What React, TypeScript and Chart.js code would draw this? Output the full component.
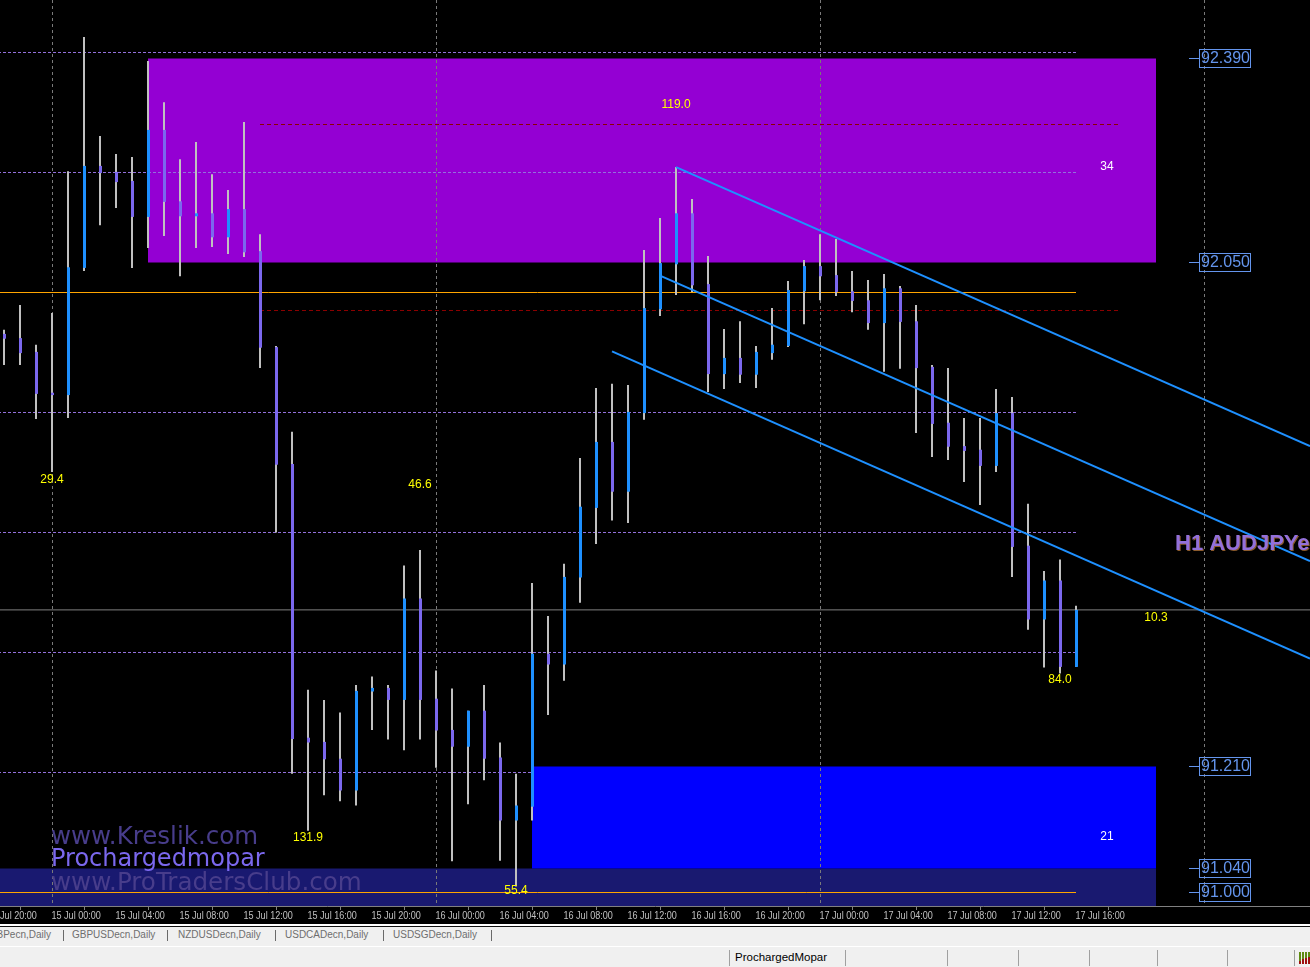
import React, { useEffect, useRef } from 'react';
import { Chart, registerables } from 'chart.js';

Chart.register(...registerables);

// ---- Candles (H1 AUDJPY), hours counted from 15 Jul 00:00 ----
const HOURS = [
  -3, -2, -1, 0, 1, 2, 3, 4, 5, 6, 7, 8, 9, 10, 11, 12, 13, 14, 15, 16, 17, 18, 19, 20,
  21, 22, 23, 24, 25, 26, 27, 28, 29, 30, 31, 32, 33, 34, 35, 36, 37, 38, 39, 40, 41, 42,
  43, 44, 45, 46, 47, 48, 49, 50, 51, 52, 53, 54, 55, 56, 57, 58, 59, 60, 61, 62, 63, 64,
];
const OPEN = [
  91.931, 91.924, 91.901, 91.833, 91.829, 92.041, 92.211, 92.201, 92.186, 92.126, 92.271, 92.152,
  92.127, 92.132, 92.092, 92.139, 92.069, 91.909, 91.714, 91.258, 91.251, 91.223, 91.170, 91.335,
  91.341, 91.321, 91.490, 91.323, 91.271, 91.243, 91.303, 91.225, 91.120, 91.143, 91.398, 91.380,
  91.525, 91.641, 91.751, 91.668, 91.799, 91.972, 92.047, 92.132, 92.014, 91.864, 91.891, 91.863,
  91.899, 91.911, 92.002, 92.044, 92.029, 92.002, 91.987, 91.949, 92.007, 91.952, 91.876, 91.783,
  91.744, 91.738, 91.711, 91.799, 91.578, 91.455, 91.520, 91.376,
];
const HIGH = [
  91.938, 91.979, 91.913, 91.966, 92.202, 92.426, 92.261, 92.231, 92.226, 92.386, 92.317, 92.222,
  92.251, 92.197, 92.171, 92.284, 92.097, 91.911, 91.768, 91.338, 91.321, 91.300, 91.346, 91.360,
  91.346, 91.545, 91.571, 91.370, 91.340, 91.303, 91.346, 91.250, 91.198, 91.516, 91.461, 91.548,
  91.724, 91.841, 91.848, 91.846, 92.071, 92.124, 92.209, 92.156, 92.061, 91.939, 91.952, 91.911,
  91.974, 92.019, 92.054, 92.097, 92.089, 92.036, 92.021, 92.031, 92.011, 91.979, 91.879, 91.874,
  91.791, 91.791, 91.839, 91.826, 91.648, 91.536, 91.555, 91.478,
];
const LOW = [
  91.879, 91.879, 91.789, 91.701, 91.791, 92.036, 92.112, 92.141, 92.041, 92.074, 92.094, 92.027,
  92.074, 92.076, 92.064, 92.059, 91.874, 91.600, 91.198, 91.103, 91.162, 91.152, 91.145, 91.271,
  91.255, 91.237, 91.255, 91.208, 91.052, 91.147, 91.187, 91.053, 91.010, 91.120, 91.296, 91.353,
  91.483, 91.581, 91.620, 91.616, 91.788, 91.961, 91.996, 92.001, 91.834, 91.839, 91.849, 91.841,
  91.888, 91.909, 91.947, 91.987, 91.994, 91.967, 91.938, 91.868, 91.873, 91.766, 91.726, 91.721,
  91.684, 91.646, 91.701, 91.526, 91.438, 91.375, 91.365, 91.376,
];
const CLOSE = [
  91.923, 91.899, 91.831, 91.829, 92.042, 92.211, 92.199, 92.184, 92.126, 92.271, 92.151, 92.127,
  92.132, 92.092, 92.139, 92.067, 91.908, 91.713, 91.256, 91.250, 91.222, 91.170, 91.336, 91.341,
  91.321, 91.490, 91.321, 91.270, 91.243, 91.303, 91.223, 91.120, 91.145, 91.398, 91.380, 91.526,
  91.643, 91.751, 91.668, 91.801, 91.974, 92.049, 92.132, 92.012, 91.864, 91.891, 91.863, 91.901,
  91.913, 92.004, 92.044, 92.027, 92.001, 91.986, 91.949, 92.007, 91.951, 91.874, 91.781, 91.743,
  91.736, 91.711, 91.799, 91.576, 91.455, 91.520, 91.376, 91.471,
];

// ---- Time axis ----
const TIME_LABEL_HOURS = [-4, 0, 4, 8, 12, 16, 20, 24, 28, 32, 36, 40, 44, 48, 52, 56, 60, 64];
const TIME_LABELS = [
  '14 Jul 20:00', '15 Jul 00:00', '15 Jul 04:00', '15 Jul 08:00', '15 Jul 12:00', '15 Jul 16:00',
  '15 Jul 20:00', '16 Jul 00:00', '16 Jul 04:00', '16 Jul 08:00', '16 Jul 12:00', '16 Jul 16:00',
  '16 Jul 20:00', '17 Jul 00:00', '17 Jul 04:00', '17 Jul 08:00', '17 Jul 12:00', '17 Jul 16:00',
];
const DAY_START_HOURS = [0, 24, 48, 72];

// ---- Levels and objects ----
const DASHED_LEVELS = [92.4, 92.2, 91.8, 91.6, 91.4, 91.2];
const ROUND_LEVELS = [92.0, 91.0];
const RED_LEVELS = [92.28, 91.97];
const BID_PRICE = 91.471;
const LEVEL_SPAN = [-4, 64];
const RED_SPAN = [13, 66.75];

const SUPPLY_ZONE = { fromHour: 6, toHour: 69, top: 92.39, bottom: 92.05 };
const DEMAND_ZONE = { fromHour: 30, toHour: 69, top: 91.21, bottom: 91.04 };
const BASE_ZONE = { fromHour: -4, toHour: 69, top: 91.04, bottom: 90.9 };

const CHANNEL_UPPER = [{ hour: 39, price: 92.209 }, { hour: 78.625, price: 91.744 }];
const CHANNEL_MIDDLE = [{ hour: 38, price: 92.028 }, { hour: 78.625, price: 91.5525 }];
const CHANNEL_LOWER = [{ hour: 35, price: 91.902 }, { hour: 78.625, price: 91.39 }];

const SWING_LABELS = [
  { text: '29.4', hour: 0, price: 91.688 },
  { text: '46.6', hour: 23, price: 91.679 },
  { text: '119.0', hour: 39, price: 92.313 },
  { text: '131.9', hour: 16, price: 91.091 },
  { text: '55.4', hour: 29, price: 91.003 },
  { text: '84.0', hour: 63, price: 91.354 },
  { text: '10.3', hour: 69, price: 91.458 },
];
const ZONE_COUNT_LABELS = [
  { text: '34', hour: 65.94, price: 92.209 },
  { text: '21', hour: 65.94, price: 91.0925 },
];
const PRICE_TAGS = [92.39, 92.05, 91.21, 91.04, 91.0];

const TABS = ['EURGBPecn,Daily', 'GBPUSDecn,Daily', 'NZDUSDecn,Daily', 'USDCADecn,Daily', 'USDSGDecn,Daily'];
const STATUS_TEXT = 'ProchargedMopar';

// ---- Style constants ----
const PRICE_MAX = 92.4875;
const PRICE_MIN = 90.9775;
const WICK_X_MIN = -3.25;
const WICK_X_MAX = 78.625;
const BODY_SHIFT = 1 / 32;
const BULL = '#1E90FF';
const BEAR = '#7B68EE';
const WICK = '#C0C0C0';
const TAG_HOUR = 71.6875;
const TAG_TICK_HOUR = 71.0625;

const overlayPlugin = {
  id: 'mt4Overlay',
  afterDatasetsDraw(chart: any) {
    const ctx = chart.ctx as CanvasRenderingContext2D;
    const xs = chart.scales.xw;
    const xb = chart.scales.x;
    const ys = chart.scales.y;
    ctx.save();

    // watermark texts
    ctx.textAlign = 'left';
    ctx.textBaseline = 'alphabetic';
    ctx.font = '24.5px "DejaVu Sans", Verdana, sans-serif';
    ctx.fillStyle = '#483D8B';
    ctx.fillText('www.Kreslik.com', 51, 843.5);
    ctx.font = '24px "DejaVu Sans", Verdana, sans-serif';
    ctx.fillStyle = '#7B68EE';
    ctx.fillText('Prochargedmopar', 51, 865.5);
    ctx.font = '24.6px "DejaVu Sans", Verdana, sans-serif';
    ctx.fillStyle = '#483D8B';
    ctx.fillText('www.ProTradersClub.com', 51, 890);

    // swing labels
    ctx.textAlign = 'center';
    ctx.textBaseline = 'middle';
    ctx.font = '12px "Liberation Sans", Arial, sans-serif';
    ctx.fillStyle = '#FFFF00';
    for (const l of SWING_LABELS) {
      ctx.fillText(l.text, xs.getPixelForValue(l.hour), ys.getPixelForValue(l.price));
    }
    ctx.fillStyle = '#FFFFFF';
    for (const l of ZONE_COUNT_LABELS) {
      ctx.fillText(l.text, xs.getPixelForValue(l.hour), ys.getPixelForValue(l.price));
    }

    // right price tags
    const tagLeft = xs.getPixelForValue(TAG_HOUR);
    const tickLeft = xs.getPixelForValue(TAG_TICK_HOUR);
    ctx.strokeStyle = '#6495ED';
    ctx.fillStyle = '#6495ED';
    ctx.lineWidth = 1;
    ctx.font = '16px "Liberation Sans", Arial, sans-serif';
    ctx.textAlign = 'left';
    for (const p of PRICE_TAGS) {
      const y = Math.floor(ys.getPixelForValue(p));
      ctx.beginPath();
      ctx.moveTo(tickLeft, y + 0.5);
      ctx.lineTo(tagLeft, y + 0.5);
      ctx.stroke();
      ctx.strokeRect(tagLeft + 0.5, y - 9 + 0.5, 51, 18);
      ctx.fillText(p.toFixed(3), tagLeft + 2, y + 1);
    }

    // symbol label
    ctx.font = 'bold 22px "Liberation Sans", Arial, sans-serif';
    ctx.textBaseline = 'alphabetic';
    ctx.fillStyle = '#8B5A2B';
    ctx.fillText('H1 AUDJPYecn', 1176, 551);
    ctx.fillStyle = '#9370DB';
    ctx.fillText('H1 AUDJPYecn', 1175, 550);

    // time axis labels (narrow face, placed at the axis' own tick positions)
    ctx.font = '10px "Liberation Sans", Arial, sans-serif';
    ctx.fillStyle = '#C0C0C0';
    ctx.textAlign = 'left';
    ctx.textBaseline = 'alphabetic';
    const labelY = chart.chartArea.bottom + 13;
    TIME_LABEL_HOURS.forEach((h, i) => {
      const x = xb.getPixelForValue(h);
      ctx.save();
      ctx.translate(x - 1, labelY);
      ctx.scale(0.905, 1);
      ctx.fillText(TIME_LABELS[i], 0, 0);
      ctx.restore();
    });

    ctx.restore();
  },
};

function hLine(price: number, span: number[], color: string, dash: number[], order: number) {
  return {
    type: 'line',
    xAxisID: 'xw',
    yAxisID: 'y',
    data: [{ x: span[0], y: price }, { x: span[1], y: price }],
    borderColor: color,
    borderWidth: 1,
    borderDash: dash,
    pointRadius: 0,
    fill: false,
    order,
  };
}

function zone(z: { fromHour: number; toHour: number; top: number; bottom: number }, color: string, order: number) {
  return {
    type: 'line',
    xAxisID: 'xw',
    yAxisID: 'y',
    data: [{ x: z.fromHour, y: z.top }, { x: z.toHour, y: z.top }],
    borderColor: 'transparent',
    borderWidth: 0,
    backgroundColor: color,
    pointRadius: 0,
    fill: { value: z.bottom },
    order,
  };
}

function slope(points: { hour: number; price: number }[]) {
  return {
    type: 'line',
    xAxisID: 'xw',
    yAxisID: 'y',
    data: points.map((p) => ({ x: p.hour, y: p.price })),
    borderColor: BULL,
    borderWidth: 2,
    pointRadius: 0,
    fill: false,
    order: 5,
  };
}

export default function App() {
  const ref = useRef<HTMLCanvasElement>(null);

  useEffect(() => {
    document.body.style.margin = '0';
    const canvas = ref.current;
    if (!canvas) return;

    const wickData = HOURS.map((h, i) => ({ x: h, y: [LOW[i], HIGH[i]] }));
    const bodyData = HOURS.map((h, i) => ({ x: h, y: [OPEN[i], CLOSE[i]] }));
    const bodyColors = HOURS.map((_, i) => (CLOSE[i] >= OPEN[i] ? BULL : BEAR));

    const datasets: any[] = [
      zone(BASE_ZONE, '#191970', 100),
      zone(SUPPLY_ZONE, '#9400D3', 95),
      ...DASHED_LEVELS.map((p) => hLine(p, LEVEL_SPAN, '#9370DB', [3, 2], 90)),
      ...ROUND_LEVELS.map((p) => hLine(p, LEVEL_SPAN, '#FFA500', [], 90)),
      ...RED_LEVELS.map((p) => hLine(p, RED_SPAN, '#8B0000', [4, 3], 90)),
      zone(DEMAND_ZONE, '#0000FF', 85),
      ...DAY_START_HOURS.map((h) => ({
        type: 'line',
        xAxisID: 'x',
        yAxisID: 'y',
        data: [{ x: h, y: PRICE_MAX }, { x: h, y: PRICE_MIN }],
        borderColor: '#7A7A7A',
        borderWidth: 1,
        borderDash: [3, 3],
        pointRadius: 0,
        fill: false,
        order: 80,
      })),
      hLine(BID_PRICE, [-10, 90], '#808080', [], 75),
      {
        type: 'bar',
        label: 'wicks',
        xAxisID: 'xw',
        yAxisID: 'y',
        data: wickData,
        backgroundColor: WICK,
        barThickness: 2,
        borderWidth: 0,
        grouped: false,
        inflateAmount: 0,
        order: 20,
      },
      {
        type: 'bar',
        label: 'bodies',
        xAxisID: 'x',
        yAxisID: 'y',
        data: bodyData,
        backgroundColor: bodyColors,
        barThickness: 3,
        minBarLength: 1,
        borderWidth: 0,
        grouped: false,
        inflateAmount: 0,
        order: 10,
      },
      slope(CHANNEL_UPPER),
      slope(CHANNEL_MIDDLE),
      slope(CHANNEL_LOWER),
    ];

    const chart = new Chart(canvas, {
      type: 'bar',
      data: { datasets },
      plugins: [overlayPlugin],
      options: {
        animation: false,
        responsive: false,
        maintainAspectRatio: false,
        events: [],
        layout: { padding: 0, autoPadding: false },
        plugins: {
          legend: { display: false },
          tooltip: { enabled: false },
          title: { display: false },
        },
        scales: {
          x: {
            type: 'linear',
            position: 'bottom',
            min: WICK_X_MIN - BODY_SHIFT,
            max: WICK_X_MAX - BODY_SHIFT,
            offset: false,
            bounds: 'data',
            afterBuildTicks: (scale: any) => {
              scale.ticks = TIME_LABEL_HOURS.map((v) => ({ value: v }));
            },
            afterFit: (scale: any) => {
              scale.height = 18;
              scale.paddingLeft = 0;
              scale.paddingRight = 0;
            },
            grid: {
              display: true,
              drawOnChartArea: false,
              drawTicks: true,
              tickLength: 4,
              tickColor: '#808080',
              tickWidth: 1,
            },
            border: { display: true, color: '#808080', width: 1 },
            ticks: {
              display: false,
              autoSkip: false,
              maxRotation: 0,
              minRotation: 0,
            },
          },
          xw: {
            type: 'linear',
            position: 'bottom',
            display: false,
            min: WICK_X_MIN,
            max: WICK_X_MAX,
            offset: false,
            grid: { display: false },
          },
          y: {
            type: 'linear',
            display: false,
            min: PRICE_MIN,
            max: PRICE_MAX,
            grid: { display: false },
          },
        },
      } as any,
    } as any);

    return () => chart.destroy();
  }, []);

  const sepStyle = (x: number, top: number, h: number, color: string): React.CSSProperties => ({
    position: 'absolute', left: x, top, width: 1, height: h, background: color,
  });
  const tabTextStyle: React.CSSProperties = {
    position: 'absolute', top: 925, height: 19, lineHeight: '19px', whiteSpace: 'nowrap',
    fontFamily: '"Liberation Sans", Arial, sans-serif', fontSize: 10, color: '#6E6E6E',
  };
  const tabLefts = [0, 72, 178, 285, 393];
  const tabSeps = [63, 167, 275, 383, 491];
  const statusSeps = [729, 845, 947, 1018, 1089, 1157, 1227, 1294];

  return (
    <div style={{ position: 'absolute', left: 0, top: 0, width: 1310, height: 967, overflow: 'hidden', background: '#F0F0F0' }}>
      <canvas ref={ref} width={1310} height={924} style={{ display: 'block', width: 1310, height: 924, background: '#000000' }} />
      <div style={{ position: 'absolute', left: 0, top: 924, width: 1310, height: 2, background: '#FFFFFF' }} />
      <div style={{ position: 'absolute', left: 0, top: 926, width: 1310, height: 1, background: '#101010' }} />
      {TABS.map((t, i) =>
        i === 0 ? (
          <div key={t} style={{ ...tabTextStyle, right: 1310 - 51, textAlign: 'right' }}>{t}</div>
        ) : (
          <div key={t} style={{ ...tabTextStyle, left: tabLefts[i] }}>{t}</div>
        )
      )}
      {tabSeps.map((x) => <div key={'ts' + x} style={sepStyle(x, 930, 11, '#6A6A6A')} />)}
      <div style={{ position: 'absolute', left: 0, top: 946, width: 1310, height: 1, background: '#FFFFFF' }} />
      <div style={{
        position: 'absolute', left: 735, top: 947, height: 20, lineHeight: '20px', whiteSpace: 'nowrap',
        fontFamily: '"Liberation Sans", Arial, sans-serif', fontSize: 11.5, color: '#000000',
      }}>{STATUS_TEXT}</div>
      {statusSeps.map((x) => <div key={'ss' + x} style={sepStyle(x, 950, 16, '#A0A0A0')} />)}
      <div style={{ position: 'absolute', left: 1299, top: 952, width: 2, height: 9, background: '#5E8C12' }} />
      <div style={{ position: 'absolute', left: 1299, top: 961, width: 2, height: 3, background: '#A01010' }} />
      <div style={{ position: 'absolute', left: 1302, top: 952, width: 2, height: 7, background: '#5E8C12' }} />
      <div style={{ position: 'absolute', left: 1302, top: 959, width: 2, height: 5, background: '#A01010' }} />
      <div style={{ position: 'absolute', left: 1305, top: 952, width: 2, height: 6, background: '#5E8C12' }} />
      <div style={{ position: 'absolute', left: 1305, top: 958, width: 2, height: 6, background: '#A01010' }} />
      <div style={{ position: 'absolute', left: 1308, top: 952, width: 2, height: 5, background: '#5E8C12' }} />
      <div style={{ position: 'absolute', left: 1308, top: 957, width: 2, height: 7, background: '#A01010' }} />
    </div>
  );
}
